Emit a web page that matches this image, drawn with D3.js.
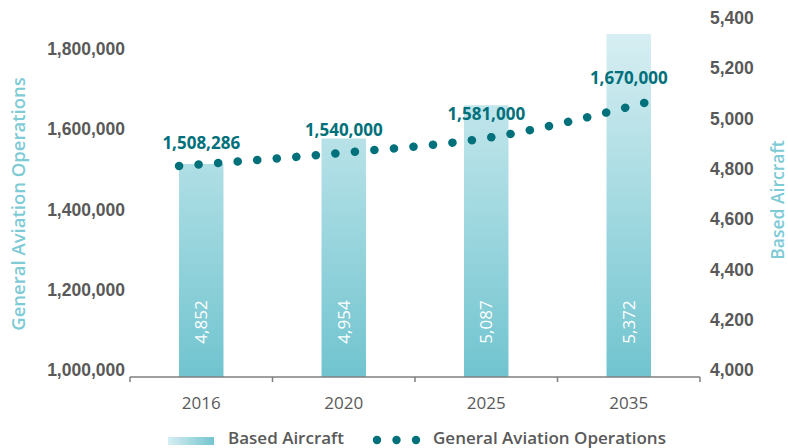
<!DOCTYPE html>
<html lang="en">
<head>
<meta charset="utf-8">
<title>Based Aircraft & General Aviation Operations</title>
<script src="https://cdn.jsdelivr.net/npm/d3@7"></script>
<style>
  body { margin: 0; background: #fff; }
  svg { display: block; font-family: "Open Sans", sans-serif; }
  .axis text { fill: #595959; }
</style>
</head>
<body>
<script>
// data
var years = ["2016", "2020", "2025", "2035"];
var basedAircraft = [4852, 4954, 5087, 5372];
var operations = [1508286, 1540000, 1581000, 1670000];
var leftTicks = [1000000, 1200000, 1400000, 1600000, 1800000];
var rightTicks = [4000, 4200, 4400, 4600, 4800, 5000, 5200, 5400];

var w = 788, h = 448;
var teal = "#00707a";
var lightTeal = "#7ecad5";
var grey = "#595959";

var svg = d3.select("body").append("svg")
  .attr("width", w)
  .attr("height", h);

svg.append("rect").attr("width", w).attr("height", h).attr("fill", "#fff");

var defs = svg.append("defs");
var barGrad = defs.append("linearGradient")
  .attr("id", "barGrad")
  .attr("gradientUnits", "userSpaceOnUse")
  .attr("x1", 0).attr("x2", 0).attr("y1", 30).attr("y2", 377);
barGrad.append("stop").attr("offset", "0%").attr("stop-color", "#d8eff3");
barGrad.append("stop").attr("offset", "100%").attr("stop-color", "#70c4cf");

var legGrad = defs.append("linearGradient").attr("id", "legGrad");
legGrad.append("stop").attr("offset", "0%").attr("stop-color", "#d6eef2");
legGrad.append("stop").attr("offset", "100%").attr("stop-color", "#72c5d0");

// scales
var x = d3.scaleBand()
  .domain(years)
  .range([130, 700])
  .paddingInner(0.688)
  .paddingOuter(0.344);

var xLine = d3.scalePoint()
  .domain(years)
  .range([x(years[0]), x(years[years.length - 1]) + x.bandwidth()]);

var yL = d3.scaleLinear().domain([1000000, 1800000]).range([370, 49]);
var yR = d3.scaleLinear().domain([4000, 5400]).range([377, 27]);

var fmt = d3.format(",");

// bars
svg.selectAll("rect.bar")
  .data(basedAircraft)
  .enter()
  .append("rect")
  .attr("class", "bar")
  .attr("x", function(d, i) { return x(years[i]); })
  .attr("y", function(d) { return yR(d); })
  .attr("width", x.bandwidth())
  .attr("height", function(d) { return yR(4000) - yR(d); })
  .attr("fill", "url(#barGrad)");

// bar values, rotated
svg.selectAll("text.barval")
  .data(basedAircraft)
  .enter()
  .append("text")
  .attr("class", "barval")
  .attr("transform", function(d, i) {
    return "translate(" + (x(years[i]) + x.bandwidth() / 2) + ",322) rotate(-90)";
  })
  .attr("text-anchor", "middle")
  .attr("dy", "0.36em")
  .attr("fill", "#fff")
  .style("font-size", "17px")
  .text(function(d) { return fmt(d); });

// dotted operations line
var line = d3.line()
  .x(function(d, i) { return xLine(years[i]); })
  .y(function(d) { return yL(d); })
  .curve(d3.curveMonotoneX);

svg.append("path")
  .datum(operations)
  .attr("d", line)
  .attr("fill", "none")
  .attr("stroke", teal)
  .attr("stroke-width", 8.5)
  .attr("stroke-linecap", "round")
  .attr("stroke-dasharray", "0.1 19.5");

// line labels
svg.selectAll("text.oplab")
  .data(operations)
  .enter()
  .append("text")
  .attr("class", "oplab")
  .attr("x", function(d, i) { return x(years[i]) + x.bandwidth() / 2; })
  .attr("y", function(d) { return yL(d) - 17; })
  .attr("text-anchor", "middle")
  .attr("fill", teal)
  .style("font-size", "17px")
  .style("font-weight", 700)
  .text(function(d) { return fmt(d); });

// left axis
var leftAxis = svg.append("g")
  .attr("class", "axis")
  .attr("transform", "translate(128,0)")
  .call(d3.axisLeft(yL).tickValues(leftTicks).tickFormat(fmt).tickSize(0).tickPadding(3));
leftAxis.select(".domain").remove();
leftAxis.selectAll("text")
  .style("font-size", "17.5px")
  .style("font-weight", 600)
  .attr("fill", grey);

// right axis (labels sit a little above the value, like the original)
var rightAxis = svg.append("g")
  .attr("class", "axis")
  .attr("transform", "translate(707,0)")
  .call(d3.axisRight(yR).tickValues(rightTicks).tickFormat(fmt).tickSize(0).tickPadding(3));
rightAxis.select(".domain").remove();
rightAxis.selectAll("text")
  .attr("y", function(d) { return -7 - (d - 4000) / 1400 * 2; })
  .style("font-size", "17.5px")
  .style("font-weight", 600)
  .attr("fill", grey);

// bottom axis: line, boundary ticks, year labels
var bottom = svg.append("g").attr("class", "axis");
bottom.append("line")
  .attr("x1", x.range()[0]).attr("x2", x.range()[1])
  .attr("y1", 377).attr("y2", 377)
  .attr("stroke", "#7f7f7f").attr("stroke-width", 1.5);

var bounds = years.map(function(d) { return x(d) + x.bandwidth() / 2 - x.step() / 2; });
bounds.push(x.range()[1]);
bottom.selectAll("line.tick")
  .data(bounds)
  .enter()
  .append("line")
  .attr("class", "tick")
  .attr("x1", function(d) { return d; })
  .attr("x2", function(d) { return d; })
  .attr("y1", 377).attr("y2", 382)
  .attr("stroke", "#7f7f7f").attr("stroke-width", 1.5);

bottom.selectAll("text.year")
  .data(years)
  .enter()
  .append("text")
  .attr("class", "year")
  .attr("x", function(d) { return x(d) + x.bandwidth() / 2; })
  .attr("y", 409)
  .attr("text-anchor", "middle")
  .style("font-size", "17px")
  .text(function(d) { return d; });

// axis titles
svg.append("text")
  .attr("transform", "translate(25,204) rotate(-90)")
  .attr("text-anchor", "middle")
  .attr("fill", lightTeal)
  .style("font-size", "18.5px")
  .style("font-weight", 600)
  .text("General Aviation Operations");

svg.append("text")
  .attr("transform", "translate(784,200) rotate(-90)")
  .attr("text-anchor", "middle")
  .attr("fill", lightTeal)
  .style("font-size", "17.5px")
  .style("font-weight", 600)
  .text("Based Aircraft");

// legend
var legend = svg.append("g");
legend.append("rect")
  .attr("x", 168).attr("y", 437).attr("width", 46).attr("height", 8)
  .attr("fill", "url(#legGrad)");
legend.append("text")
  .attr("x", 228).attr("y", 444)
  .attr("fill", grey)
  .style("font-size", "17px")
  .style("font-weight", 600)
  .text("Based Aircraft");
legend.selectAll("circle")
  .data([377, 396.5, 416])
  .enter()
  .append("circle")
  .attr("cx", function(d) { return d; })
  .attr("cy", 440)
  .attr("r", 4.2)
  .attr("fill", teal);
legend.append("text")
  .attr("x", 433).attr("y", 444)
  .attr("fill", grey)
  .style("font-size", "17px")
  .style("font-weight", 600)
  .text("General Aviation Operations");
</script>
</body>
</html>
